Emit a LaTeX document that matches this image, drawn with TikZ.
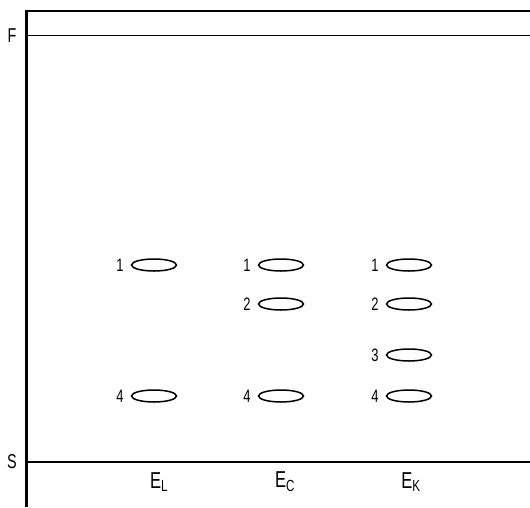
\documentclass[tikz,border=0pt]{standalone}
\usepackage{fontspec}
\setsansfont{Liberation Sans}
\usetikzlibrary{positioning,shapes.geometric}
\newcommand{\narrowtxt}[1]{\scalebox{0.72}[1]{#1}}
\tikzset{
  state/.style={draw, ellipse, line width=1.5pt, minimum width=45pt, minimum height=12pt, inner sep=0pt},
  num/.style={font=\sffamily\fontsize{18}{18}\selectfont, inner sep=1pt},
  lbl/.style={font=\sffamily\fontsize{20}{20}\selectfont, inner sep=0pt},
  elbl/.style={font=\sffamily\fontsize{23}{23}\selectfont, inner sep=0pt}
}
\begin{document}
\begin{tikzpicture}[x=1pt,y=-1pt]
  \useasboundingbox (0,0) rectangle (530,507);
  % draw vertical axis
  \draw[line width=2.6pt] (26.5,10) -- (26.5,507);
  % draw top line and the levels F and S
  \draw[line width=1.7pt] (26.5,11) -- (530,11);
  \draw[line width=1.7pt] (26.5,35.5) -- (530,35.5);
  \draw[line width=1.7pt] (26.5,462) -- (530,462);
  \node[lbl] (F) at (12,36) {\narrowtxt{F}};
  \node[lbl] (S) at (12,462) {\narrowtxt{S}};
  % column E_L
  \node[state] (L1) at (154,265) {};
  \node[state] (L4) at (154,396) {};
  \node[num, left=6pt of L1] (nL1) {\narrowtxt{1}};
  \node[num, left=6pt of L4] (nL4) {\narrowtxt{4}};
  % column E_C
  \node[state] (C1) at (281,265) {};
  \node[state] (C2) at (281,304) {};
  \node[state] (C4) at (281,396) {};
  \node[num, left=6pt of C1] (nC1) {\narrowtxt{1}};
  \node[num, left=6pt of C2] (nC2) {\narrowtxt{2}};
  \node[num, left=6pt of C4] (nC4) {\narrowtxt{4}};
  % column E_K
  \node[state] (K1) at (409,265) {};
  \node[state] (K2) at (409,304) {};
  \node[state] (K3) at (409,355) {};
  \node[state] (K4) at (409,396) {};
  \node[num, left=6pt of K1] (nK1) {\narrowtxt{1}};
  \node[num, left=6pt of K2] (nK2) {\narrowtxt{2}};
  \node[num, left=6pt of K3] (nK3) {\narrowtxt{3}};
  \node[num, left=6pt of K4] (nK4) {\narrowtxt{4}};
  % labels below S
  \node[elbl] (EL) at (159,482) {\narrowtxt{E\textsubscript{L}}};
  \node[elbl] (EC) at (285,482) {\narrowtxt{E\textsubscript{C}}};
  \node[elbl] (EK) at (411,482) {\narrowtxt{E\textsubscript{K}}};
\end{tikzpicture}
\end{document}
